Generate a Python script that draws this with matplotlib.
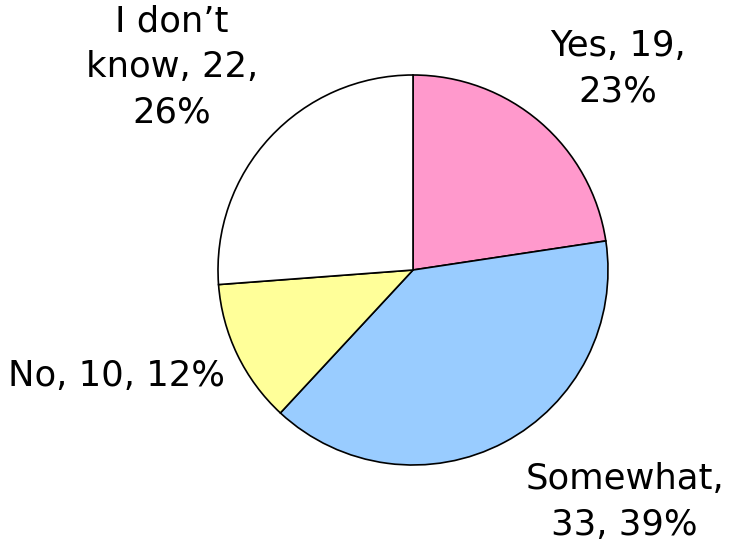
import matplotlib.pyplot as plt

# Survey answers
categories = ['Yes', 'Somewhat', 'No', 'I don\u2019t know']
counts = [19, 33, 10, 22]
percents = [23, 39, 12, 26]
colors = ['#FF99CC', '#99CCFF', '#FFFF99', '#FFFFFF']

# label text and where it sits (pie radius = 1)
label_text = ['Yes, 19,\n23%', 'Somewhat,\n33, 39%', 'No, 10, 12%', 'I don\u2019t\nknow, 22,\n26%']
label_pos = [(1.051, 1.03), (1.085, -1.19), (-1.523, -0.545), (-1.236, 1.04)]

fig = plt.figure(figsize=(7.29, 5.43), dpi=100)
ax = fig.add_axes([0, 0, 1, 1])

ax.pie(counts, colors=colors, startangle=90, counterclock=False, radius=1,
       wedgeprops={'edgecolor': 'black', 'linewidth': 1.2})

for txt, (x, y) in zip(label_text, label_pos):
    ax.text(x, y, txt, ha='center', va='center', fontsize=25.5,
            family='DejaVu Sans', linespacing=1.42)

# pie centre at (413, 270) px, radius 195 px
ax.set_xlim(-413 / 195, (729 - 413) / 195)
ax.set_ylim(-(543 - 270) / 195, 270 / 195)
ax.set_aspect('equal')
ax.axis('off')

fig.savefig('out.png', dpi=100)
